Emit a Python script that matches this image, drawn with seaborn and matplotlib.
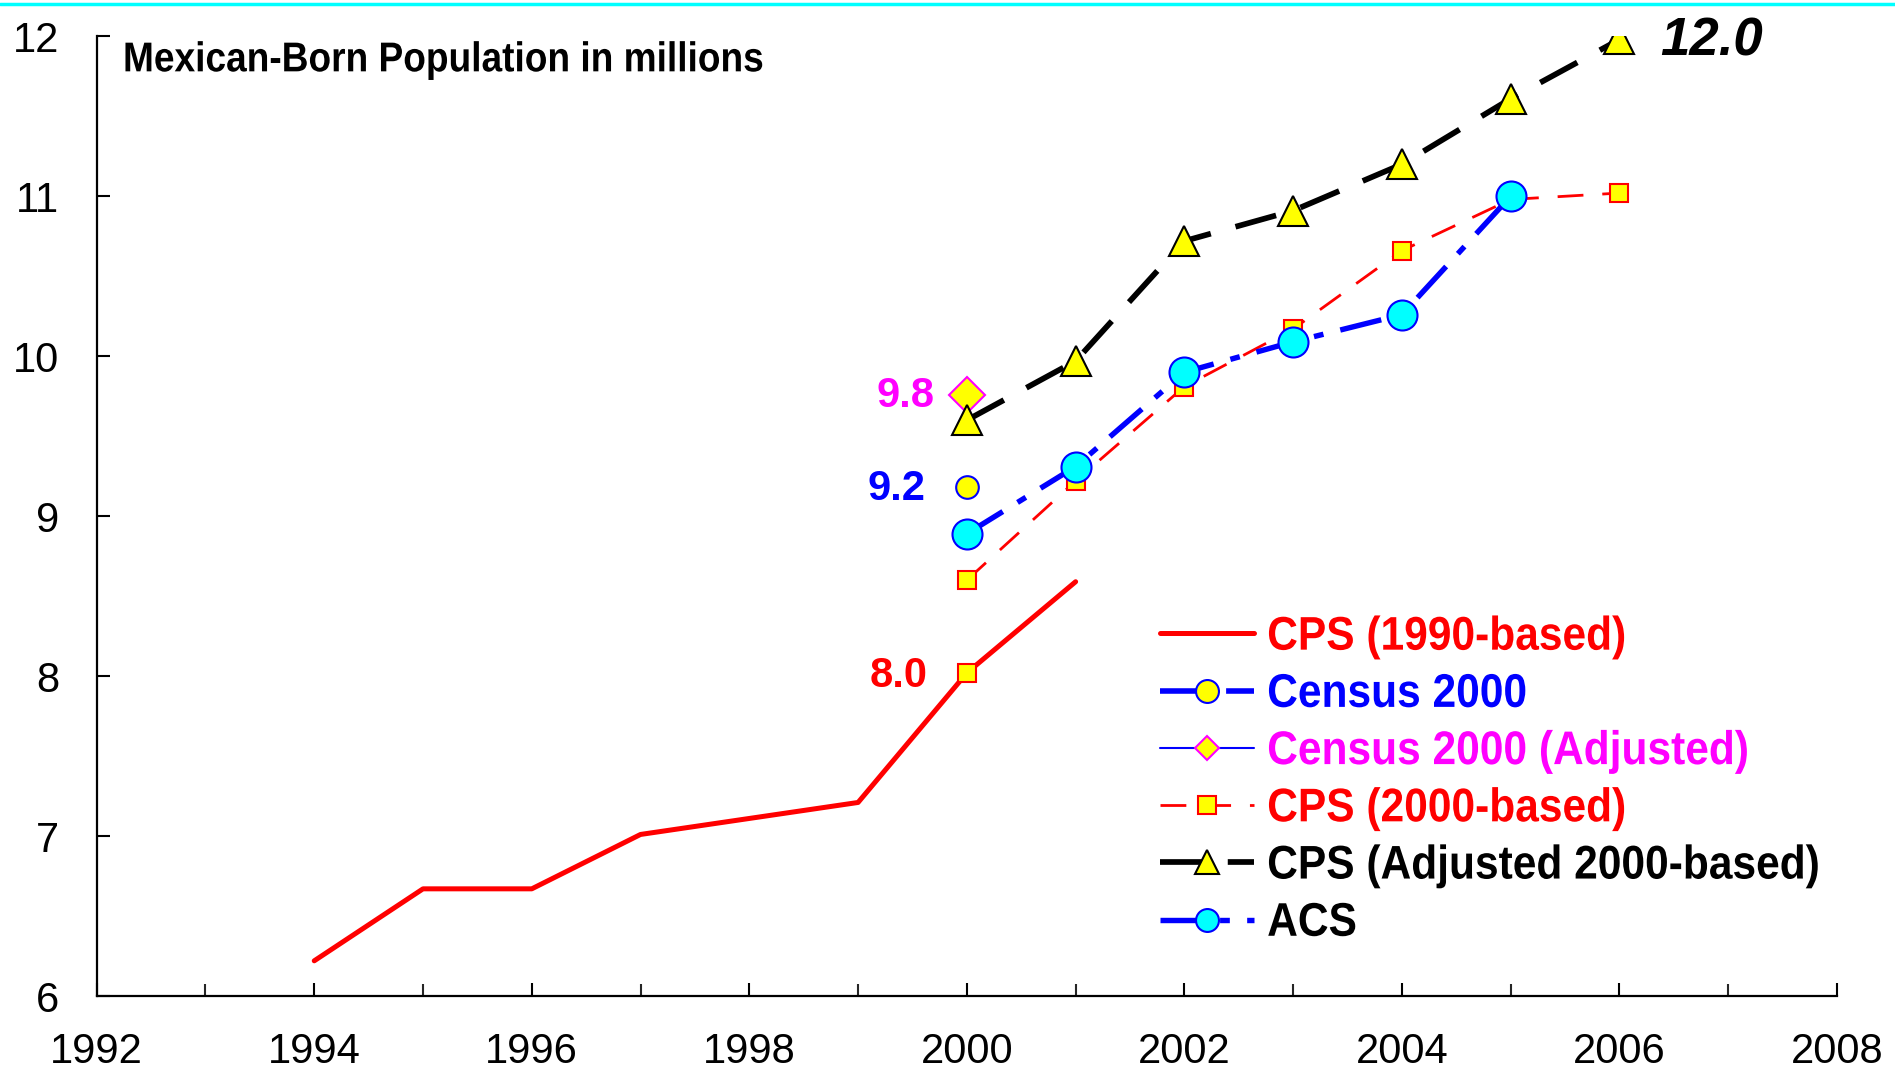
import numpy as np
import pandas as pd
import seaborn as sns
import matplotlib.pyplot as plt
import matplotlib.transforms as mtransforms
from matplotlib.lines import Line2D
from matplotlib.textpath import TextPath
from matplotlib.patches import PathPatch
from matplotlib.font_manager import FontProperties

# values (millions)
cps90_years = [1994, 1995, 1996, 1997, 1998, 1999, 2000, 2001]
cps90_vals = [6.22, 6.67, 6.67, 7.01, 7.11, 7.21, 8.02, 8.59]

cps90_mark_year = [2000]
cps90_mark_val = [8.02]

census_years = [2000]
census_vals = [9.18]

census_adj_years = [2000]
census_adj_vals = [9.76]

cps00_years = [2000, 2001, 2002, 2003, 2004, 2005, 2006]
cps00_vals = [8.60, 9.22, 9.81, 10.17, 10.66, 10.98, 11.02]

cps_adj_years = [2000, 2001, 2002, 2003, 2004, 2005, 2006]
cps_adj_vals = [9.60, 9.97, 10.72, 10.91, 11.20, 11.61, 11.98]

acs_years = [2000, 2001, 2002, 2003, 2004, 2005]
acs_vals = [8.89, 9.31, 9.90, 10.09, 10.26, 11.00]

legend_labels = ["CPS (1990-based)", "Census 2000", "Census 2000 (Adjusted)",
                 "CPS (2000-based)", "CPS (Adjusted 2000-based)", "ACS"]
legend_colors = ["#FF0000", "#0000FF", "#FF00FF", "#FF0000", "#000000", "#000000"]
legend_msizes = [0, 16.5, 12.7, 13, 17, 16.5]

x_ticks = [1992, 1994, 1996, 1998, 2000, 2002, 2004, 2006, 2008]
y_ticks = [6, 7, 8, 9, 10, 11, 12]

RED = "#FF0000"
BLUE = "#0000FF"
MAG = "#FF00FF"
YEL = "#FFFF00"
CYAN = "#00FFFF"

W, H = 1895, 1074

sns.set_style("ticks")
plt.rcParams['font.family'] = ['Liberation Sans', 'DejaVu Sans']

fig = plt.figure(figsize=(W / 100, H / 100), dpi=100)
ax = fig.add_axes([96.7 / W, 1 - 996 / H, (1837 - 96.7) / W, (996 - 36.3) / H])


# no narrow Arial installed, so squeeze bold Liberation Sans glyph outlines sideways
def narrow_text(x, y, s, size, color, sx=0.88):
    # x = left edge, y = middle of capitals, in figure pixels from bottom left
    fp = FontProperties(family='Liberation Sans', weight='bold')
    em = size * 100 / 72
    cap = TextPath((0, 0), "H", size=em, prop=fp).get_extents().height
    tp = TextPath((0, 0), s, size=em, prop=fp)
    tr = (mtransforms.Affine2D().scale(sx, 1).translate(x, y - cap / 2)
          .scale(1 / W, 1 / H) + fig.transFigure)
    fig.add_artist(PathPatch(tp, transform=tr, facecolor=color, lw=0))


# CPS 1990-based
sns.lineplot(x=cps90_years, y=cps90_vals, ax=ax, color=RED, lw=3.6,
             solid_capstyle='round', errorbar=None)
h_cps90 = ax.lines[-1]
sns.lineplot(x=cps90_mark_year, y=cps90_mark_val, ax=ax, color=RED, lw=0,
             marker='s', markersize=13.5, markerfacecolor=YEL, markeredgecolor=RED,
             mew=1.5, errorbar=None)

# CPS 2000-based
sns.lineplot(x=cps00_years, y=cps00_vals, ax=ax, color=RED, lw=2,
             dashes=(9.3, 6.8), marker='s', markersize=13.5, markerfacecolor=YEL,
             markeredgecolor=RED, mew=1.5, errorbar=None)
h_cps00 = ax.lines[-1]

# Census 2000 adjusted
sns.lineplot(x=census_adj_years, y=census_adj_vals, ax=ax, color=BLUE, lw=1.5,
             marker='D', markersize=18.5, markerfacecolor=YEL, markeredgecolor=MAG,
             mew=1.5, errorbar=None)
h_cadj = ax.lines[-1]

# CPS adjusted 2000-based
sns.lineplot(x=cps_adj_years, y=cps_adj_vals, ax=ax, color='black', lw=4.1,
             dashes=(7.4, 4.5), marker='^', markersize=21, markerfacecolor=YEL,
             markeredgecolor='black', mew=1.5, errorbar=None)
h_cpsadj = ax.lines[-1]

# Census 2000
sns.lineplot(x=census_years, y=census_vals, ax=ax, color=BLUE, lw=4,
             dashes=(7.4, 4.5), marker='o', markersize=16.3, markerfacecolor=YEL,
             markeredgecolor=BLUE, mew=1.5, errorbar=None)
h_census = ax.lines[-1]

# ACS
sns.lineplot(x=acs_years, y=acs_vals, ax=ax, color=BLUE, lw=3.9,
             dashes=(7.8, 3.2, 1.8, 3.2), marker='o', markersize=21.6,
             markerfacecolor=CYAN, markeredgecolor=BLUE, mew=1.5, errorbar=None)
h_acs = ax.lines[-1]

ax.set_xlim(1992, 2008)
ax.set_ylim(6, 12)
ax.set_xticks(x_ticks)
ax.set_xticks(range(1992, 2009), minor=True)
ax.set_yticks(y_ticks)
ax.set_xlabel("")
ax.set_ylabel("")
sns.despine(ax=ax)
for s in ['left', 'bottom']:
    ax.spines[s].set_linewidth(1.6)
    ax.spines[s].set_color('black')
ax.tick_params(axis='x', which='major', direction='in', length=9.5, width=1.5,
               labelsize=30, pad=26, colors='black')
ax.tick_params(axis='x', which='minor', direction='in', length=8.5, width=1.5)
ax.tick_params(axis='y', direction='in', length=9, width=1.5, labelsize=30,
               pad=27, colors='black')

# point labels
ax.text(1999.70, 9.75, "9.8", color=MAG, fontsize=30, fontweight='bold',
        ha='right', va='center')
ax.text(1999.62, 9.17, "9.2", color=BLUE, fontsize=30, fontweight='bold',
        ha='right', va='center')
ax.text(1999.64, 8.00, "8.0", color=RED, fontsize=30, fontweight='bold',
        ha='right', va='center')
ax.text(2006.37, 11.97, "12.0", color='black', fontsize=38, fontweight='bold',
        fontstyle='italic', ha='left', va='center')

narrow_text(123, H - 57, "Mexican-Born Population in millions", 30, 'black', sx=0.89)

handles = [h_cps90, h_census, h_cadj, h_cps00, h_cpsadj, h_acs]
leg = ax.legend(handles, legend_labels, loc='center left',
                bbox_to_anchor=(1160 / W, 1 - 781 / H),
                bbox_transform=fig.transFigure, frameon=False, numpoints=1,
                prop=dict(family='Liberation Sans', weight='bold', size=34),
                handlelength=2.0, handletextpad=0.27, labelspacing=0.28,
                borderpad=0, borderaxespad=0)
for lh, ms in zip(leg.legend_handles, legend_msizes):
    if ms:
        lh.set_markersize(ms)
# legend labels: keep the layout, draw the visible text squeezed
for t in leg.get_texts():
    t.set_color((0, 0, 0, 0))

fig.canvas.draw()
rend = fig.canvas.get_renderer()
for t, lh, lab, col in zip(leg.get_texts(), leg.legend_handles, legend_labels, legend_colors):
    tb = t.get_window_extent(rend)
    hb = lh.get_window_extent(rend)
    narrow_text(tb.x0, (hb.y0 + hb.y1) / 2, lab, 34, col, sx=0.90)

# cyan rule along the top edge
fig.add_artist(Line2D([0, 1], [1 - 4 / H, 1 - 4 / H], transform=fig.transFigure,
                      color=CYAN, lw=2.5))

fig.savefig("out.png", dpi=100)
